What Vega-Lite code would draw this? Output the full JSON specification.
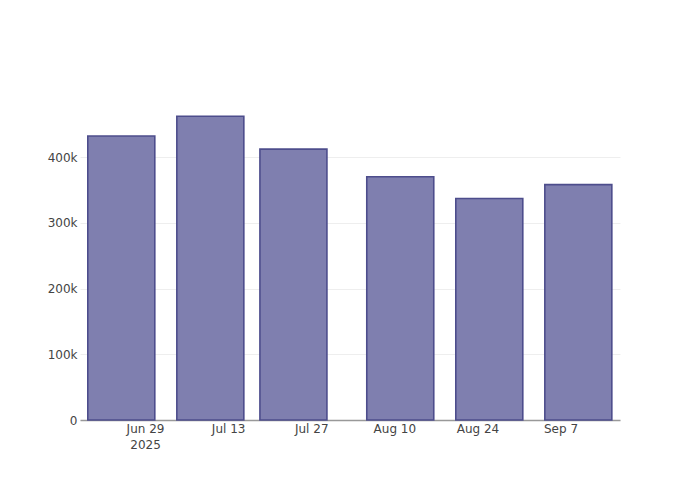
{
  "$schema": "https://vega.github.io/schema/vega-lite/v6.json",
  "width": 540,
  "height": 320,
  "autosize": {"type": "none"},
  "padding": {"left": 80, "top": 100, "right": 80, "bottom": 80},
  "background": "white",
  "config": {
    "view": {"stroke": null},
    "font": "DejaVu Sans",
    "axis": {"labelFont": "DejaVu Sans", "labelFontSize": 12, "labelColor": "#444", "title": null}
  },
  "data": {
    "values": [
      {"date": "2025-06-25", "value": 432000},
      {"date": "2025-07-10", "value": 462000},
      {"date": "2025-07-24", "value": 412000},
      {"date": "2025-08-11", "value": 370000},
      {"date": "2025-08-26", "value": 337000},
      {"date": "2025-09-10", "value": 358000}
    ]
  },
  "mark": {"type": "bar", "width": 67, "fill": "#7f7faf", "stroke": "#4d4d8c", "strokeWidth": 1.6},
  "encoding": {
    "x": {
      "field": "date",
      "type": "temporal",
      "scale": {
        "type": "utc",
        "padding": 0,
        "domain": [
          {"year": 2025, "month": 6, "date": 18, "hours": 1, "utc": true},
          {"year": 2025, "month": 9, "date": 17, "hours": 0, "minutes": 30, "utc": true}
        ]
      },
      "axis": {
        "values": [
          {"year": 2025, "month": 6, "date": 29, "utc": true},
          {"year": 2025, "month": 7, "date": 13, "utc": true},
          {"year": 2025, "month": 7, "date": 27, "utc": true},
          {"year": 2025, "month": 8, "date": 10, "utc": true},
          {"year": 2025, "month": 8, "date": 24, "utc": true},
          {"year": 2025, "month": 9, "date": 7, "utc": true}
        ],
        "labelExpr": "utcmonth(datum.value) == 5 ? [utcFormat(datum.value, '%b %-d'), '2025'] : utcFormat(datum.value, '%b %-d')",
        "grid": false,
        "ticks": false,
        "domain": true,
        "domainColor": "#999",
        "domainWidth": 1.5,
        "labelPadding": 3,
        "labelLineHeight": 16,
        "labelFlush": false,
        "labelOverlap": false
      }
    },
    "y": {
      "field": "value",
      "type": "quantitative",
      "scale": {"domain": [0, 486700], "nice": false},
      "axis": {
        "values": [0, 100000, 200000, 300000, 400000],
        "labelExpr": "datum.value == 0 ? '0' : format(datum.value, '~s')",
        "grid": true,
        "gridColor": "#eeeeee",
        "gridWidth": 1,
        "domain": false,
        "ticks": false,
        "labelPadding": 3
      }
    }
  }
}
